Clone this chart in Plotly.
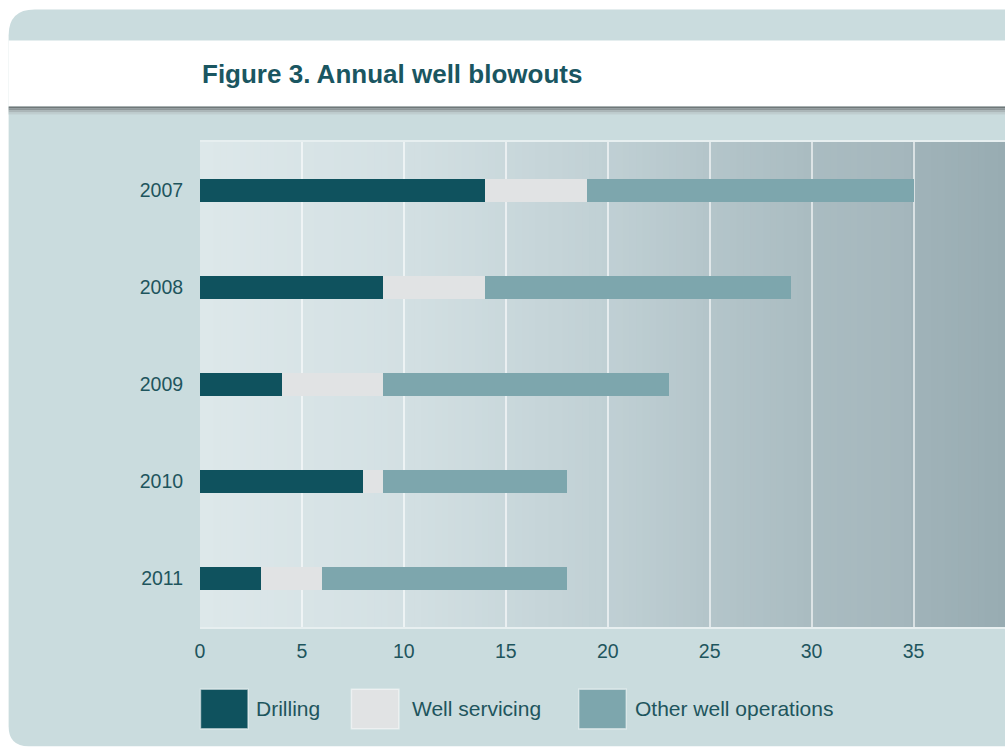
import plotly.graph_objects as go

# ---- data ----
years = ["2007", "2008", "2009", "2010", "2011"]
drilling = [14, 9, 4, 8, 3]
well_servicing = [5, 5, 5, 1, 3]
other_ops = [16, 15, 14, 9, 12]
series_names = ["Drilling", "Well servicing", "Other well operations"]
series_colors = ["#0f525e", "#e1e3e4", "#7da6ad"]
x_ticks = [0, 5, 10, 15, 20, 25, 30, 35]
title_text = "Figure 3. Annual well blowouts"

W, H = 1005, 750
ML, MR, MT, MB = 199.5, 0, 141.5, 123.3
PW = W - ML - MR
PH = H - MT - MB
XMAX = (W - ML) / 20.4

def px(x):
    return (x - ML) / PW

def py(y):
    return (H - MB - y) / PH

TXT = "#1e555d"
FONT = "Liberation Sans, Arial, sans-serif"

fig = go.Figure()
for name, vals, col in zip(series_names, [drilling, well_servicing, other_ops], series_colors):
    fig.add_trace(go.Bar(y=years, x=vals, name=name, orientation="h",
                         marker=dict(color=col, line=dict(width=0)),
                         showlegend=False, hoverinfo="x+y+name"))

shapes = []
# outer panel with rounded left corners
r1, r2 = 26, 20
x0, y0, y1 = 8, 9, 746
xr = 1010
path = (f"M {px(x0)},{py(y0 + r1)} Q {px(x0)},{py(y0)} {px(x0 + r1)},{py(y0)} "
        f"L {px(xr)},{py(y0)} L {px(xr)},{py(y1)} L {px(x0 + r2)},{py(y1)} "
        f"Q {px(x0)},{py(y1)} {px(x0)},{py(y1 - r2)} Z")
shapes.append(dict(type="path", xref="paper", yref="paper", path=path,
                   fillcolor="#cadcde", line=dict(width=0), layer="below"))
# header white band
shapes.append(dict(type="rect", xref="paper", yref="paper", x0=px(x0), x1=px(xr),
                   y0=py(106), y1=py(40), fillcolor="#ffffff", line=dict(width=0), layer="below"))
# shadow under header
shadow = [(106, 108, "#6f7778"), (108, 110, "#8d9698"), (110, 112, "#abb6b8"), (112, 114, "#bfcdcf")]
for a, b, c in shadow:
    shapes.append(dict(type="rect", xref="paper", yref="paper", x0=px(x0), x1=px(xr),
                       y0=py(b), y1=py(a), fillcolor=c, line=dict(width=0), layer="below"))

# gradient plot background (each strip runs to the right edge to avoid seams)
stops = [(0, (221, 232, 234)), (10, (211, 224, 227)), (20, (192, 208, 212)),
         (25, (180, 197, 202)), (30, (170, 188, 193)), (35, (164, 182, 188)),
         (35.01, (160, 179, 185)), (XMAX, (152, 172, 178))]

def col_at(v):
    for (a, ca), (b, cb) in zip(stops[:-1], stops[1:]):
        if a <= v <= b:
            t = (v - a) / (b - a) if b > a else 0
            c = [round(ca[i] + (cb[i] - ca[i]) * t) for i in range(3)]
            return f"rgb({c[0]},{c[1]},{c[2]})"
    return "rgb(152,172,178)"

n = 120
step = XMAX / n
for i in range(n):
    a = i * step
    shapes.append(dict(type="rect", xref="x", yref="paper", x0=a, x1=XMAX + 1,
                       y0=0, y1=1, fillcolor=col_at(a + step / 2), line=dict(width=0),
                       layer="below"))

# legend swatches
leg_x = [200, 351, 578.5]
leg_text_x = [253.5, 409.5, 632.5]
for lx, col in zip(leg_x, series_colors):
    shapes.append(dict(type="rect", xref="paper", yref="paper", x0=px(lx), x1=px(lx + 47.5),
                       y0=py(728.5), y1=py(689), fillcolor=col,
                       line=dict(width=1.5, color="rgba(255,255,255,0.5)"), layer="above"))

annotations = [dict(text=f"<b>{title_text}</b>", xref="paper", yref="paper",
                    x=px(200), y=py(73), xanchor="left", yanchor="middle",
                    showarrow=False, font=dict(family=FONT, size=26, color="#1a5661"))]
for tx, name in zip(leg_text_x, series_names):
    annotations.append(dict(text=name, xref="paper", yref="paper", x=px(tx), y=py(708.5),
                            xanchor="left", yanchor="middle", showarrow=False,
                            font=dict(family=FONT, size=21, color=TXT)))

fig.update_layout(
    width=W, height=H, margin=dict(l=ML, r=MR, t=MT, b=MB, pad=0),
    paper_bgcolor="#ffffff", plot_bgcolor="rgba(0,0,0,0)",
    barmode="stack", bargap=0.773, showlegend=False,
    shapes=shapes, annotations=annotations,
    font=dict(family=FONT, color=TXT),
    xaxis=dict(range=[0, XMAX], tickvals=x_ticks, showgrid=True,
               gridcolor="rgba(255,255,255,0.6)", gridwidth=2, zeroline=False,
               showline=True, linecolor="rgba(255,255,255,0.55)", linewidth=2, mirror=True,
               ticks="outside", ticklen=6, tickcolor="rgba(0,0,0,0)",
               tickfont=dict(family=FONT, size=19.5, color=TXT), fixedrange=True),
    yaxis=dict(categoryorder="array", categoryarray=years, autorange="reversed",
               showgrid=False, zeroline=False, showline=False,
               ticks="outside", ticklen=12, tickcolor="rgba(0,0,0,0)",
               tickfont=dict(family=FONT, size=19.5, color=TXT), fixedrange=True),
)

fig.write_html("out.html")
